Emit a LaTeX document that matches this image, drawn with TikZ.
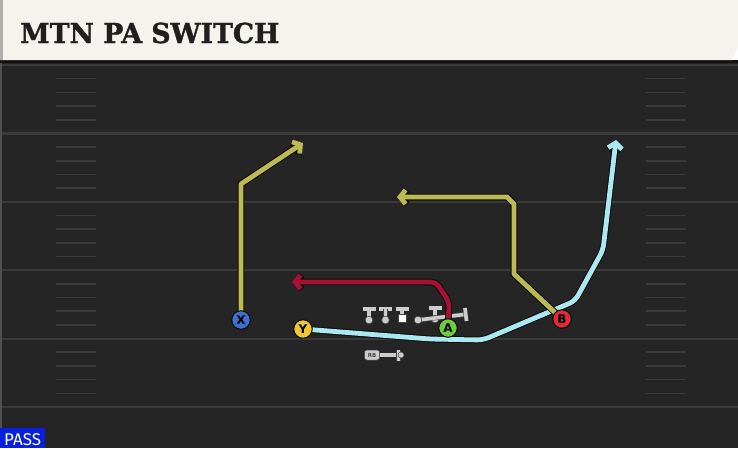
\documentclass[tikz,border=0pt]{standalone}
\usepackage{fontspec}
\setsansfont{DejaVu Sans}
\newfontfamily\titlefont[BoldFont={DejaVu Serif Bold}, BoldFeatures={FakeBold=1.2}, FakeStretch=0.97]{DejaVu Serif}
\newfontfamily\tagfont{Fira Sans}
\usetikzlibrary{arrows.meta, positioning, calc}
\definecolor{fieldbg}{RGB}{37, 37, 37}
\definecolor{fieldedge}{RGB}{80, 80, 80}
\definecolor{yardgray}{RGB}{58, 58, 58}
\definecolor{titlecream}{RGB}{245, 243, 237}
\definecolor{titleedge}{RGB}{175, 175, 175}
\definecolor{passblue}{RGB}{8, 32, 222}
\definecolor{routeolive}{RGB}{188, 186, 82}
\definecolor{routeblue}{RGB}{170, 232, 242}
\definecolor{routered}{RGB}{168, 18, 50}
\definecolor{routeedge}{RGB}{12, 12, 14}
\definecolor{xblue}{RGB}{62, 112, 205}
\definecolor{yyellow}{RGB}{240, 198, 50}
\definecolor{agreen}{RGB}{112, 204, 62}
\definecolor{bred}{RGB}{222, 44, 56}
\definecolor{linemangray}{RGB}{205, 205, 205}
\definecolor{linemanedge}{RGB}{70, 70, 70}
\pgfdeclarelayer{field}
\pgfdeclarelayer{routes}
\pgfsetlayers{field,routes,main}
\tikzstyle{yardline} = [draw=yardgray, line width=2.2pt]
\tikzstyle{hashmark} = [draw=yardgray, line width=1.6pt]
\tikzstyle{player} = [circle, draw=routeedge, line width=1pt, minimum size=18.5pt, inner sep=0pt,
                      font=\sffamily\bfseries\fontsize{12}{12}\selectfont]
\tikzstyle{route} = [line width=4.8pt, line join=round, preaction={draw=routeedge, line width=6.8pt}]
\tikzstyle{arrow} = [-{Straight Barb[length=5.5pt, width=14pt]}]
\tikzstyle{linepart} = [draw=linemangray, line width=3.6pt, preaction={draw=linemanedge, line width=4.6pt}]
\tikzstyle{knob} = [fill=linemangray, draw=linemanedge, line width=0.5pt]
\newcommand{\blocker}[1]{%
  \draw[linepart] ($(#1)+(-6.5,-11)$) -- ($(#1)+(6.5,-11)$);
  \draw[linepart] ($(#1)+(0,-11)$) -- (#1);
  \filldraw[knob] (#1) circle (3.8);}

\begin{document}
\begin{tikzpicture}[x=1pt, y=-1pt]
    \useasboundingbox (0,0) rectangle (738,448);
    \begin{pgfonlayer}{field}
        % Field
        \fill[fieldbg] (0,60) rectangle (738,448);
        \fill[fieldedge] (0,60) rectangle (2,448);
        \fill[routeedge!80!fieldbg] (0,60) rectangle (738,63);
        \foreach \i in {0,...,5}
            \draw[yardline] (2,65+68.4*\i) -- (738,65+68.4*\i);
        \foreach \i in {0,...,4}
            \foreach \k in {1,...,4} {
                \draw[hashmark] (56,65+68.4*\i+13.68*\k) -- (96,65+68.4*\i+13.68*\k);
                \draw[hashmark] (646,65+68.4*\i+13.68*\k) -- (686,65+68.4*\i+13.68*\k);
            }
        % Title bar
        \fill[titlecream] (0,0) -- (738,0) -- (738,47) -- (732,60) -- (0,60) -- cycle;
        \fill[titleedge] (0,0) rectangle (2.5,60);
        % Line
        \blocker{369,320}
        \blocker{385.5,320}
        \draw[linepart] (402,309) -- (402,314);
        \draw[linepart] (395.5,309) -- (408.5,309);
        \filldraw[fill=white, draw=linemanedge, line width=0.5pt] (398,314) rectangle (406,322);
        \blocker{435,319}
        \draw[linepart] (418,320) -- (464,314.5);
        \draw[linepart] (465,308) -- (466.5,321);
        \filldraw[knob] (418,320) circle (3.8);
        % Back
        \node[knob, rounded corners=2.5pt, minimum width=15pt, minimum height=10pt, inner sep=0pt,
              font=\sffamily\bfseries\fontsize{5.5}{5.5}\selectfont, text=linemanedge] (rb) at (372,355) {RB};
        \draw[linepart] (rb.east) -- (397,355);
        \draw[linepart] (398.5,349.5) -- (398.5,360.5);
        \filldraw[knob] (401,355) circle (3);
    \end{pgfonlayer}

    % Titles
    \node[anchor=base west, inner sep=0pt, font=\titlefont\bfseries\fontsize{27.5}{27.5}\selectfont,
          text=black!88] (title) at (20,43) {MTN PA SWITCH};
    \fill[passblue] (0,428) rectangle (45,448);
    \node[anchor=base west, inner sep=0pt, font=\tagfont\fontsize{17}{17}\selectfont, text=white]
        (playtype) at (4,445) {PASS};

    % Players
    \node[player, fill=xblue] (X) at (241,320) {X};
    \node[player, fill=yyellow] (Y) at (303,329) {Y};
    \node[player, fill=agreen] (A) at (448,328) {A};
    \node[player, fill=bred] (B) at (562,319) {B};

    % Route ends
    \coordinate (xend) at (303,143);
    \coordinate (yend) at (616,140);
    \coordinate (aend) at (292,282);
    \coordinate (bend) at (397,197);

    % Routes
    \begin{pgfonlayer}{routes}
        \draw[route, arrow, routeolive] (X.center) -- (241,184) -- (xend);
        \draw[route, arrow, routeblue, rounded corners=6pt]
            (Y.center) -- (430,339) -- (483,340) -- (575,301) -- (603,250) -- (yend);
        \draw[route, arrow, routered, rounded corners=5pt] (A.center) -- (449,302) -- (436,282) -- (aend);
        \draw[route, arrow, routeolive] (B.center) -- (514,274) -- (514,204) -- (507,197) -- (bend);
    \end{pgfonlayer}
\end{tikzpicture}
\end{document}
